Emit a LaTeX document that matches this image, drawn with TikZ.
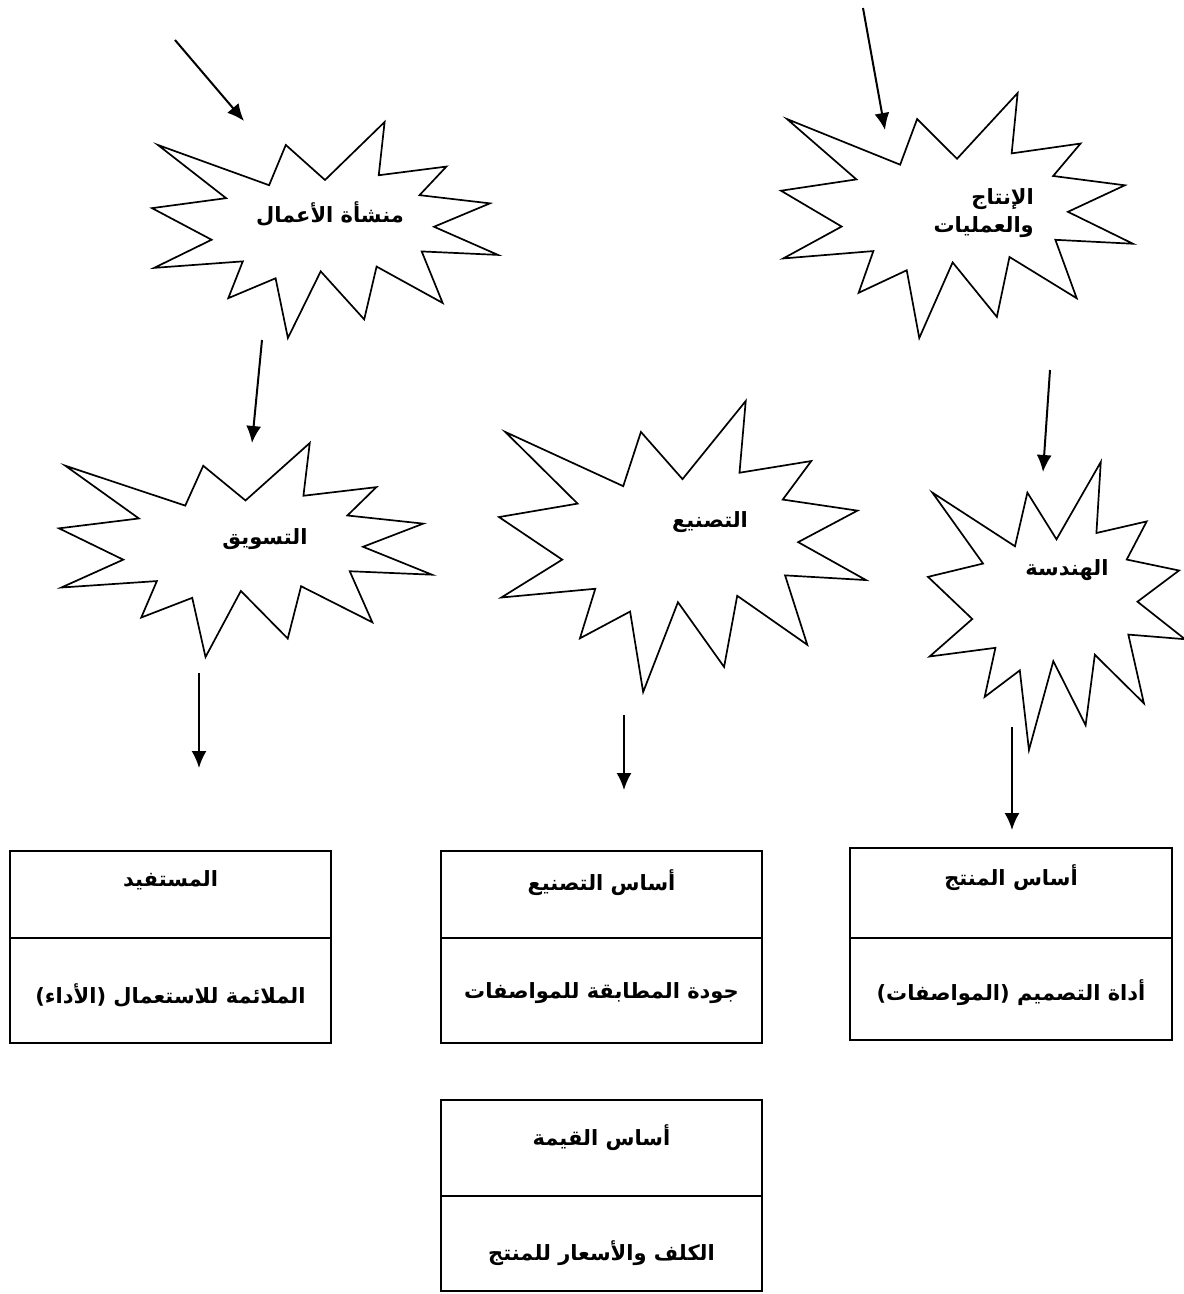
\documentclass[tikz,border=0pt]{standalone}
\usepackage{fontspec}
\newfontfamily\arabicfont[Script=Arabic]{DejaVu Sans}
\TeXXeTstate=1
\usetikzlibrary{positioning, arrows.meta}

\newcommand{\artext}[1]{\beginR #1\endR}
% explosion outline, unit square 100 x 100
\newcommand{\drawburst}[4]{%
  \begin{scope}[shift={(#1,#2)}, xscale=#3, yscale=#4]
    \draw[burst] (50,26.85) -- (67.23,0) -- (65.53,24.65) -- (85.09,20.63)
      -- (77.32,33.87) -- (97.67,37.67) -- (81.51,48.50) -- (100,61.53)
      -- (77.95,59.92) -- (84.00,83.77) -- (64.91,66.93) -- (61.33,91.38)
      -- (48.76,69.14) -- (39.28,100) -- (35.72,72.35) -- (22.05,81.56)
      -- (26.24,64.52) -- (0.63,67.53) -- (17.23,54.51) -- (0,39.88)
      -- (21.42,35.26) -- (1.71,10.63) -- (33.85,29.26) -- (38.67,10.63) -- cycle;
  \end{scope}}

\begin{document}
\begin{tikzpicture}[x=1pt, y=-1pt]
		% Styles
		\tikzstyle{burst} = [draw, line width=1.7pt, line join=miter, fill=white]
		\tikzstyle{label} = [font=\arabicfont\bfseries\fontsize{21}{28}\selectfont, inner sep=0pt]
		\tikzstyle{boxpart} = [rectangle, draw, line width=2pt, minimum width=321pt,
		inner sep=0pt, outer sep=0pt]
		\tikzstyle{line} = [draw, line width=2pt, -{Latex[length=17pt, width=15pt]}]
		
		\useasboundingbox (0,0) rectangle (1184,1294);
		
		% Explosions
		\drawburst{152}{122}{3.46}{2.16}
		\drawburst{781}{93}{3.52}{2.45}
		\drawburst{59}{443}{3.73}{2.14}
		\drawburst{499}{401}{3.67}{2.91}
		\drawburst{928}{462}{2.57}{2.88}
		
		\node [label] (business) at (330,214) {\artext{منشأة الأعمال}};
		\node [label, align=right, anchor=east] (production) at (1034,213)
		{\artext{الإنتاج}\\\artext{والعمليات}};
		\node [label] (marketing) at (265,539) {\artext{التسويق}};
		\node [label] (manufacturing) at (710,522) {\artext{التصنيع}};
		\node [label] (engineering) at (1067,570) {\artext{الهندسة}};
		
		% Boxes
		\node [boxpart, minimum height=87pt] (userhead) at (170.5,894.5) {};
		\node [boxpart, minimum height=105pt, below=0pt of userhead] (userbody) {};
		\node [boxpart, minimum height=87pt] (makehead) at (601.5,894.5) {};
		\node [boxpart, minimum height=105pt, below=0pt of makehead] (makebody) {};
		\node [boxpart, minimum width=322pt, minimum height=90pt] (producthead) at (1011,893) {};
		\node [boxpart, minimum width=322pt, minimum height=102pt, below=0pt of producthead] (productbody) {};
		\node [boxpart, minimum height=96pt] (valuehead) at (601.5,1148) {};
		\node [boxpart, minimum height=95pt, below=0pt of valuehead] (valuebody) {};
		
		\node [label] at ([yshift=-29pt]userhead.north) {\artext{المستفيد}};
		\node [label] at ([yshift=-57pt]userbody.north) {\artext{الملائمة للاستعمال (الأداء)}};
		\node [label] at ([yshift=-32pt]makehead.north) {\artext{أساس التصنيع}};
		\node [label] at ([yshift=-55pt]makebody.north) {\artext{جودة المطابقة للمواصفات}};
		\node [label] at ([yshift=-30pt]producthead.north) {\artext{أساس المنتج}};
		\node [label] at ([yshift=-55pt]productbody.north) {\artext{أداة التصميم (المواصفات)}};
		\node [label] at ([yshift=-38pt]valuehead.north) {\artext{أساس القيمة}};
		\node [label] at ([yshift=-57pt]valuebody.north) {\artext{الكلف والأسعار للمنتج}};
		
		% Connections
		\coordinate (a1) at (175,40);   \coordinate (b1) at (244,121);
		\coordinate (a2) at (863,8);    \coordinate (b2) at (885,130);
		\coordinate (a3) at (262,340);  \coordinate (b3) at (252,443);
		\coordinate (a4) at (1050,370); \coordinate (b4) at (1043,472);
		\coordinate (a5) at (199,673);  \coordinate (b5) at (199,768);
		\coordinate (a6) at (624,715);  \coordinate (b6) at (624,790);
		\coordinate (a7) at (1012,727); \coordinate (b7) at (1012,830);
		\foreach \i in {1,...,7}
		\path [line] (a\i) -- (b\i);
	\end{tikzpicture}
\end{document}
